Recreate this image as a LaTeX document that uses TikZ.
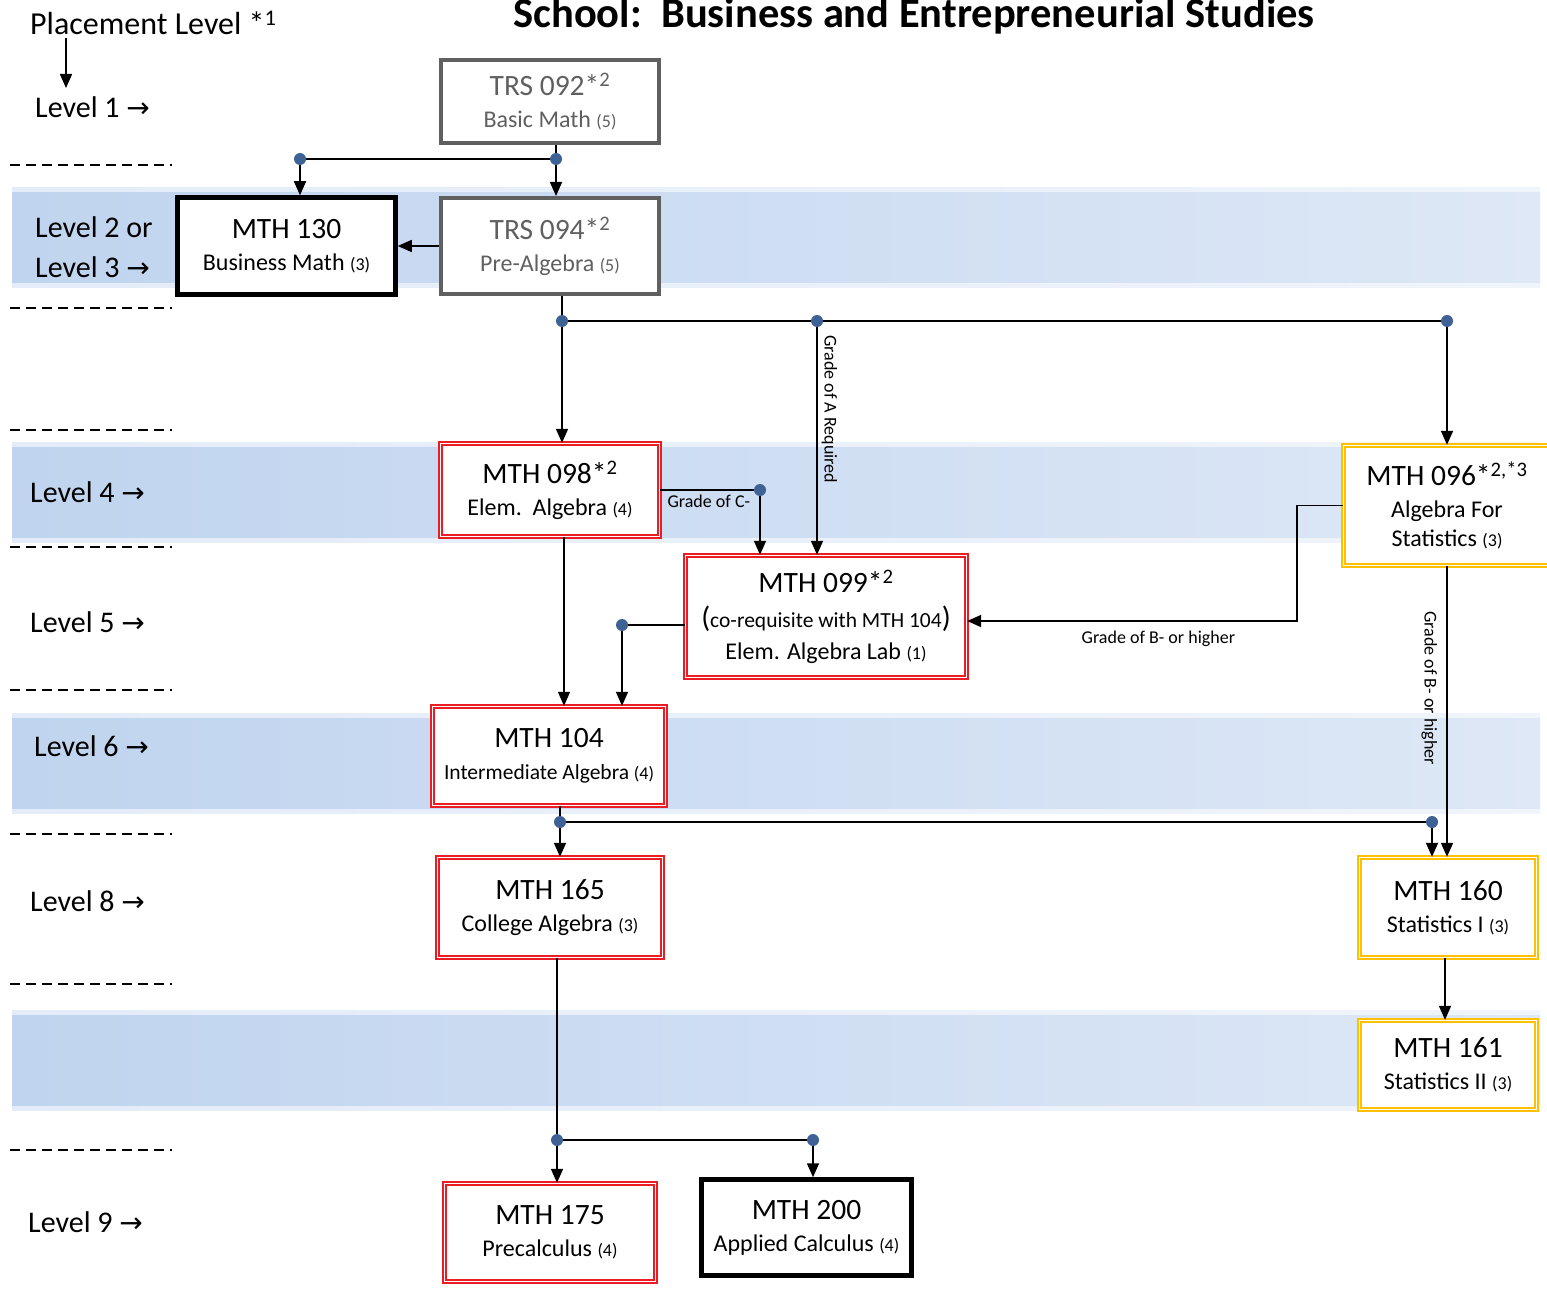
\documentclass[tikz,border=0pt]{standalone}
\usepackage{fontspec}
\setmainfont{Carlito}
\newfontfamily\arrowfont{DejaVu Sans}
\usetikzlibrary{arrows.meta,positioning}

\definecolor{boxgray}{RGB}{96,96,96}
\definecolor{boxred}{RGB}{236,28,36}
\definecolor{boxyellow}{RGB}{255,192,0}
\definecolor{jointblue}{RGB}{62,98,150}
\definecolor{bandleft}{RGB}{192,212,239}
\definecolor{bandright}{RGB}{222,232,246}

\newcommand{\coursesize}{\fontsize{29.5}{32}\selectfont}
\newcommand{\subsize}{\fontsize{24}{32}\selectfont}
\newcommand{\smallsubsize}{\fontsize{21.5}{32}\selectfont}
\newcommand{\credsize}{\fontsize{18}{20}\selectfont}
\newcommand{\levelsize}{\fontsize{30}{40}\selectfont}
\newcommand{\gradesize}{\fontsize{18}{20}\selectfont}
\newcommand{\levarrow}{{\arrowfont\fontsize{28}{30}\selectfont →}}

\begin{document}
\begin{tikzpicture}[x=1pt,y=-1pt,
    arr/.style={-{Triangle[width=12pt,length=14pt]}, line width=1.6pt},
    link/.style={line width=1.6pt},
    joint/.style={circle, fill=jointblue, inner sep=0pt, minimum size=12pt},
    course/.style={rectangle, align=center, inner sep=0pt, font=\subsize, fill=white},
    graybox/.style={course, draw=boxgray, text=boxgray, line width=4pt},
    blackbox/.style={course, draw=black, line width=4.5pt},
    redbox/.style={course, draw=boxred, line width=1.3pt, double=white, double distance=1.6pt},
    yellowbox/.style={course, draw=boxyellow, line width=1.3pt, double=white, double distance=1.6pt},
    grade/.style={font=\gradesize, inner sep=2pt},
    level/.style={anchor=base west, font=\levelsize, inner sep=0pt}]

    \useasboundingbox (0,0) rectangle (1547,1297);

    % Level bands
    \foreach \b in {193,447,718,1015} {
        \shade[left color=bandleft, right color=bandright, opacity=0.45] (12,\b-5) rectangle (1540,\b+95);
        \shade[left color=bandleft, right color=bandright] (12,\b) rectangle (1540,\b+90);
    }

    % Level separators
    \foreach \y in {165,308,430,547,690,834,984,1150} {
        \draw[dash pattern=on 10pt off 6pt, line width=1.5pt] (10,\y) -- (172,\y);
    }

    % Title and level labels
    \node[anchor=base, font=\bfseries\fontsize{42.5}{44}\selectfont, inner sep=0pt] (title) at (914,28) {School:~~Business and Entrepreneurial Studies};
    \node[level, font=\fontsize{32}{40}\selectfont] (place) at (30,35) {Placement Level *\textsuperscript{1}};
    \foreach \x/\y/\txt [count=\i] in {35/118/Level 1 \levarrow, 35/238/Level 2 or, 35/278/Level 3 \levarrow,
        30/502/Level 4 \levarrow, 30/632/Level 5 \levarrow, 34/756/Level 6 \levarrow,
        30/911/Level 8 \levarrow, 28/1232/Level 9 \levarrow} {
        \node[level] (lev\i) at (\x,\y) {\txt};
    }
    \coordinate (placetip) at (66,88);
    \draw[arr] ([yshift=-3pt]placetip |- place.south) -- (placetip);

    % Courses
    \node[graybox, minimum width=218pt, minimum height=83pt] (trs092) at (550,101.5)
        {{\coursesize TRS 092*\textsuperscript{2}}\\Basic Math {\credsize (5)}};
    \node[graybox, minimum width=218pt, minimum height=96pt] (trs094) at (550,246)
        {{\coursesize TRS 094*\textsuperscript{2}}\\Pre-Algebra {\credsize (5)}};
    \node[blackbox, minimum width=218pt, minimum height=97pt] (mth130) at (286.5,246)
        {{\coursesize MTH 130}\\Business Math {\credsize (3)}};
    \node[redbox, minimum width=219pt, minimum height=93pt] (mth098) at (550,490)
        {{\coursesize MTH 098*\textsuperscript{2}}\\Elem.~~Algebra {\credsize (4)}};
    \node[redbox, minimum width=281pt, minimum height=122pt] (mth099) at (826,616.5)
        {{\coursesize MTH 099*\textsuperscript{2}}\\[3pt]{\coursesize(}{\smallsubsize co-requisite with MTH 104}{\coursesize)}\\Elem. Algebra Lab {\credsize (1)}};
    \node[yellowbox, minimum width=207pt, minimum height=120pt] (mth096) at (1447,505.5)
        {{\coursesize MTH 096*\textsuperscript{2,*3}}\\Algebra For\\[-3pt]Statistics {\credsize (3)}};
    \node[redbox, font=\smallsubsize, minimum width=233pt, minimum height=99pt] (mth104) at (549,756)
        {{\coursesize MTH 104}\\Intermediate Algebra {\credsize (4)}};
    \node[redbox, minimum width=225pt, minimum height=100pt] (mth165) at (550,907.5)
        {{\coursesize MTH 165}\\College Algebra {\credsize (3)}};
    \node[yellowbox, minimum width=177pt, minimum height=100pt] (mth160) at (1448,907.5)
        {{\coursesize MTH 160}\\Statistics I {\credsize (3)}};
    \node[yellowbox, minimum width=177pt, minimum height=89pt] (mth161) at (1448,1065)
        {{\coursesize MTH 161}\\Statistics II {\credsize (3)}};
    \node[redbox, minimum width=211pt, minimum height=98pt] (mth175) at (550,1232.5)
        {{\coursesize MTH 175}\\Precalculus {\credsize (4)}};
    \node[blackbox, minimum width=210pt, minimum height=96pt] (mth200) at (806.5,1227.5)
        {{\coursesize MTH 200}\\Applied Calculus {\credsize (4)}};

    % Junctions
    \node[joint] (j1) at (300,159) {};
    \node[joint] (j2) at (556,159) {};
    \node[joint] (j3) at (562,321) {};
    \node[joint] (j4) at (817,321) {};
    \node[joint] (j5) at (1447,321) {};
    \node[joint] (j6) at (760,490) {};
    \node[joint] (j7) at (622,625) {};
    \node[joint] (j8) at (560,822) {};
    \node[joint] (j9) at (1432,822) {};
    \node[joint] (j10) at (557,1140) {};
    \node[joint] (j11) at (813,1140) {};

    % Level 1 to 3
    \draw[link] (trs092.south -| j2) -- (j2);
    \draw[link] (j1) -- (j2);
    \draw[arr] (j1) -- (j1 |- mth130.north);
    \draw[arr] (j2) -- (j2 |- trs094.north);
    \draw[arr] (trs094.west) -- (mth130.east);

    % Level 3 to 5
    \draw[link] (trs094.south -| j3) -- (j3);
    \draw[link] (j3) -- (j4);
    \draw[link] (j4) -- (j5);
    \draw[arr] (j3) -- (j3 |- mth098.north);
    \draw[arr] (j4) -- node[grade, rotate=-90, anchor=south, inner ysep=4pt, pos=0.36] {Grade of A Required} (j4 |- mth099.north);
    \draw[arr] (j5) -- (mth096.north);
    \draw[link] (mth098.east) -- node[grade, below, pos=0.52, inner ysep=4pt] {Grade of C-} (j6);
    \draw[arr] (j6) -- (j6 |- mth099.north);
    \draw[arr] (mth096.west) -- ++(-46,0) |- node[grade, below=7pt, pos=0.71] {Grade of B- or higher} ([yshift=-4.5pt]mth099.east);

    % Level 5 to 8
    \draw[arr] ([xshift=14pt]mth098.south) -- ([xshift=14pt]mth098.south |- mth104.north);
    \draw[link] (j7 -| mth099.west) -- (j7);
    \draw[arr] (j7) -- (j7 |- mth104.north);
    \draw[link] (mth104.south -| j8) -- (j8);
    \draw[arr] (j8) -- (j8 |- mth165.north);
    \draw[link] (j8) -- (j9);
    \draw[arr] (j9) -- (j9 |- mth160.north);
    \draw[arr] (mth096.south) -- node[grade, rotate=-90, anchor=north, inner ysep=9pt, pos=0.42] {Grade of B- or higher} (mth096.south |- mth160.north);
    \draw[arr] ([xshift=-3pt]mth160.south) -- ([xshift=-3pt]mth161.north);

    % Level 8 to 9
    \draw[link] (mth165.south -| j10) -- (j10);
    \draw[arr] (j10) -- (j10 |- mth175.north);
    \draw[link] (j10) -- (j11);
    \draw[arr] (j11) -- (j11 |- mth200.north);
\end{tikzpicture}
\end{document}
